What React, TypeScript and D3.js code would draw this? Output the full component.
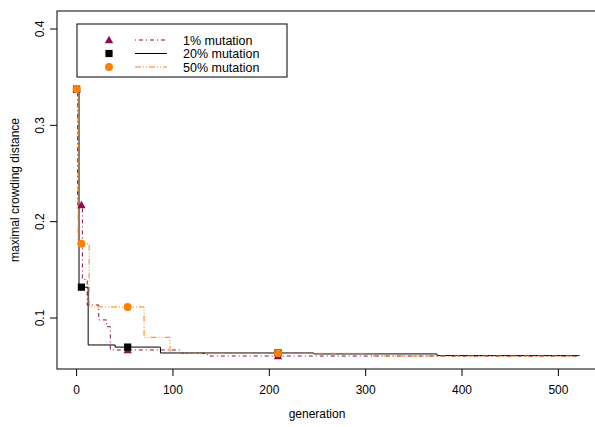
import React from 'react';
import * as d3 from 'd3';

const width = 595;
const height = 427;

// step data (generation, maximal crowding distance)
const gen1 = [0, 1, 6, 11, 23, 31, 35, 107, 136, 522];
const val1 = [0.3375, 0.2173, 0.140, 0.1135, 0.098, 0.091, 0.0668, 0.0633, 0.0605, 0.0605];

const gen20 = [0, 2.5, 12, 40, 87, 246, 374, 522];
const val20 = [0.3375, 0.132, 0.072, 0.0698, 0.0637, 0.0627, 0.061, 0.061];

const gen50 = [0, 1.5, 13, 70, 97, 308, 522];
const val50 = [0.3375, 0.177, 0.1115, 0.080, 0.0633, 0.0606, 0.0606];

const markerGens = [0, 5, 53, 209];

const xTicks = [0, 100, 200, 300, 400, 500];
const yTicks = [0.1, 0.2, 0.3, 0.4];

const seriesNames = ['1% mutation', '20% mutation', '50% mutation'];
const seriesColors = ['#8B0A50', '#000000', '#FF8000'];
const seriesDash = ['1,3,4,3', null, '6,2,1,2,1,2'];
const seriesShape = ['triangle', 'square', 'circle'];

const font = '"Liberation Sans", Arial, sans-serif';

function valueAt(gens: number[], vals: number[], g: number) {
  const i = d3.bisectRight(gens, g) - 1;
  return vals[Math.max(0, i)];
}

function Marker({ shape, x, y, color }: { shape: string; x: number; y: number; color: string }) {
  if (shape === 'triangle') {
    const s = 4.2;
    return <path d={`M${x},${y - s}L${x + s},${y + s * 0.75}L${x - s},${y + s * 0.75}Z`} fill={color} />;
  }
  if (shape === 'square') {
    return <rect x={x - 3.6} y={y - 3.6} width={7.2} height={7.2} fill={color} />;
  }
  return <circle cx={x} cy={y} r={4} fill={color} />;
}

export default function App() {
  const x = d3.scaleLinear().domain([0, 500]).range([76.6, 558.4]);
  const y = d3.scaleLinear().domain([0.1, 0.4]).range([318, 29]);

  const left = 57, top = 11, right = 600, bottom = 369;

  const series = [
    { gens: gen1, vals: val1 },
    { gens: gen20, vals: val20 },
    { gens: gen50, vals: val50 },
  ];

  const line = d3.line<[number, number]>()
    .x(d => x(d[0]))
    .y(d => y(d[1]))
    .curve(d3.curveStepAfter);

  const order = [0, 1, 2];

  return (
    <svg width={width} height={height} style={{ position: 'absolute', left: 0, top: 0, background: '#fff' }}
      fontFamily={font}>
      <rect x={left} y={top} width={right - left} height={bottom - top} fill="none" stroke="#000" strokeWidth={1} />

      {xTicks.map(t => (
        <g key={t}>
          <line x1={x(t)} x2={x(t)} y1={bottom} y2={bottom + 7} stroke="#000" />
          <text x={x(t)} y={394} fontSize={12} textAnchor="middle" fill="#000">{t}</text>
        </g>
      ))}
      {yTicks.map(t => (
        <g key={t}>
          <line x1={left - 7} x2={left} y1={y(t)} y2={y(t)} stroke="#000" />
          <text transform={`translate(44,${y(t)}) rotate(-90)`} fontSize={12} textAnchor="middle" fill="#000">{t}</text>
        </g>
      ))}

      <text x={317} y={418} fontSize={12} textAnchor="middle" fill="#000">generation</text>
      <text transform={`translate(19,${(top + bottom) / 2}) rotate(-90)`} fontSize={12} textAnchor="middle" fill="#000">
        maximal crowding distance
      </text>

      {order.map(i => {
        const s = series[i];
        const pts = s.gens.map((g, k) => [g, s.vals[k]] as [number, number]);
        return (
          <path key={'l' + i} d={line(pts) || ''} fill="none" stroke={seriesColors[i]}
            strokeWidth={1} strokeDasharray={seriesDash[i] || undefined} />
        );
      })}
      {order.map(i => {
        const s = series[i];
        return markerGens.map(g => (
          <Marker key={'m' + i + '-' + g} shape={seriesShape[i]} x={x(g)} y={y(valueAt(s.gens, s.vals, g))}
            color={seriesColors[i]} />
        ));
      })}

      <rect x={77} y={24} width={210} height={53} fill="#fff" stroke="#000" strokeWidth={1} />
      {seriesNames.map((name, i) => {
        const ly = 40 + i * 13.5;
        return (
          <g key={name}>
            <Marker shape={seriesShape[i]} x={109} y={ly} color={seriesColors[i]} />
            <line x1={135} x2={167} y1={ly} y2={ly} stroke={seriesColors[i]} strokeWidth={1}
              strokeDasharray={seriesDash[i] || undefined} />
            <text x={183} y={ly + 4.5} fontSize={12.5} fill="#000">{name}</text>
          </g>
        );
      })}
    </svg>
  );
}
